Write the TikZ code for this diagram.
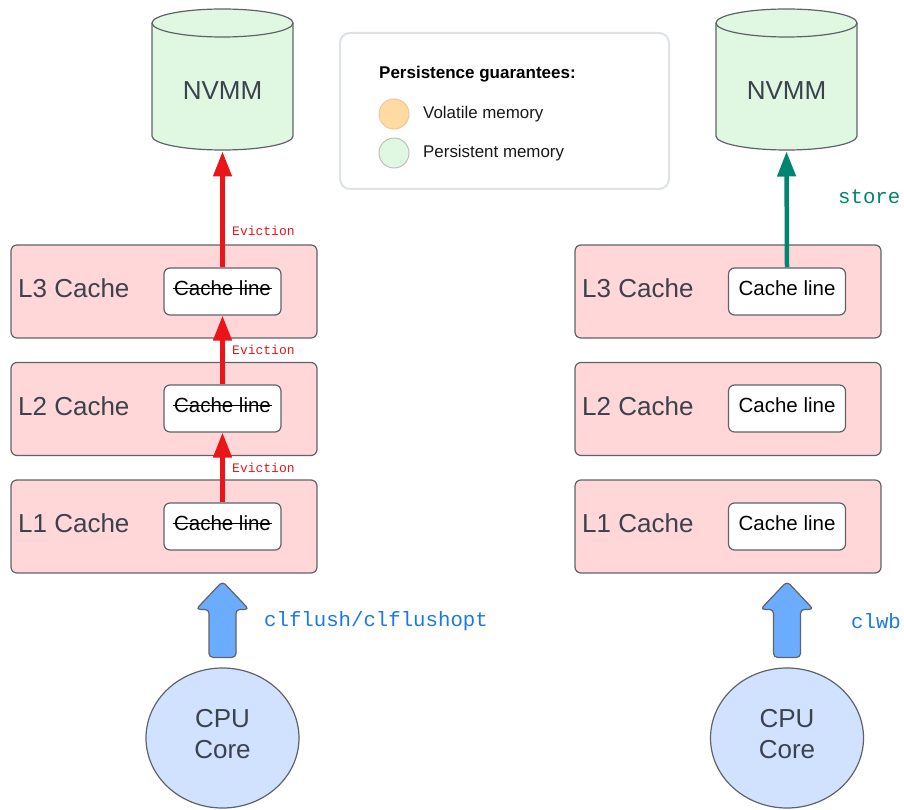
\documentclass[tikz,border=0pt]{standalone}
\usepackage{fontspec}
\setmainfont{Liberation Sans}
\setmonofont{Liberation Mono}
\usetikzlibrary{shapes.geometric,arrows.meta}

\definecolor{cachepink}{RGB}{255,215,217}
\definecolor{nvmmgreen}{RGB}{224,248,226}
\definecolor{cpublue}{RGB}{208,226,255}
\definecolor{flushblue}{RGB}{108,172,255}
\definecolor{cmdblue}{RGB}{25,120,235}
\definecolor{evictred}{RGB}{235,20,25}
\definecolor{storeteal}{RGB}{0,133,112}
\definecolor{edgegray}{RGB}{95,99,104}
\definecolor{labelgray}{RGB}{60,66,76}
\definecolor{voltorange}{RGB}{255,218,163}
\definecolor{legendgray}{RGB}{222,226,231}

\newcommand{\crossout}[1]{\setbox0\hbox{#1}\rlap{\kern-1.5pt\rule[0.3em]{\dimexpr\wd0+3pt\relax}{1.6pt}}\box0}

\begin{document}
\begin{tikzpicture}[x=1pt, y=-1pt,
    cachebox/.style={draw=edgegray, fill=cachepink, rounded corners=6pt, line width=1.2pt, minimum width=306pt, minimum height=93pt},
    lineslot/.style={draw=edgegray, fill=white, rounded corners=6pt, line width=1.2pt, minimum width=117pt, minimum height=47pt, inner sep=0pt, text depth=7pt, font=\fontsize{20.5}{24}\selectfont},
    levellabel/.style={anchor=west, inner sep=0pt, text=labelgray, font=\fontsize{26}{31}\selectfont},
    drum/.style={draw=edgegray, fill=nvmmgreen, line width=1.2pt},
    bigtext/.style={inner sep=0pt, text=labelgray, font=\fontsize{26}{31}\selectfont},
    core/.style={ellipse, draw=edgegray, fill=cpublue, line width=1.2pt, minimum width=153pt, minimum height=140pt},
    evict/.style={-{Triangle[length=25pt,width=18pt]}, evictred, line width=4.5pt},
    evictlabel/.style={anchor=west, inner sep=0pt, text=evictred, font=\ttfamily\fontsize{13}{15}\selectfont},
    cmd/.style={anchor=west, inner sep=0pt, font=\ttfamily\fontsize{20.7}{24}\selectfont},
    pushup/.style={draw=edgegray, fill=flushblue, line width=1.2pt, rounded corners=4pt, line join=round},
    legenddot/.style={circle, minimum size=30pt, inner sep=0pt, line width=1pt},
    legendtext/.style={anchor=west, inner sep=0pt, text=black!90, font=\fontsize{16.9}{20}\selectfont}
  ]
    \useasboundingbox (0,0) rectangle (904,810);

    % 图例
    \node[draw=legendgray, fill=white, rounded corners=10pt, line width=2pt, minimum width=329pt, minimum height=156pt] (legend) at (504.5,111) {};
    \node[anchor=west, inner sep=0pt, font=\bfseries\fontsize{17}{20}\selectfont] (legendtitle) at (379,74) {Persistence guarantees:};
    \node[legenddot, draw=orange!45!brown!45, fill=voltorange] (dotvol) at (394,114) {};
    \node[legenddot, draw=black!25, fill=nvmmgreen] (dotper) at (394,153) {};
    \node[legendtext] (textvol) at (423,114) {Volatile memory};
    \node[legendtext] (textper) at (423,153) {Persistent memory};

    % 左侧: clflush
    \draw[drum] (152,23) -- (152,136) arc[start angle=180, end angle=360, x radius=70.5pt, y radius=14pt] -- (293,23) arc[start angle=0, end angle=180, x radius=70.5pt, y radius=14pt] -- cycle;
    \draw[drum, fill=none] (152,23) arc[start angle=180, end angle=360, x radius=70.5pt, y radius=14pt];
    \node[bigtext] (nvmmL) at (222.5,91) {NVMM};
    \coordinate (nvmmbotL) at (222.5,151.5);

    \node[cachebox] (l3L) at (164,291.5) {};
    \node[cachebox] (l2L) at (164,409) {};
    \node[cachebox] (l1L) at (164,526.5) {};

    \node[levellabel] (l3labL) at (18,288.5) {L3 Cache};
    \node[levellabel] (l2labL) at (18,406) {L2 Cache};
    \node[levellabel] (l1labL) at (18,523.5) {L1 Cache};

    \node[lineslot] (cl3L) at (222.5,291.5) {\crossout{Cache line}};
    \node[lineslot] (cl2L) at (222.5,408.5) {\crossout{Cache line}};
    \node[lineslot] (cl1L) at (222.5,526.5) {\crossout{Cache line}};

    \draw[evict] (cl1L.north) -- (cl2L.south);
    \draw[evict] (cl2L.north) -- (cl3L.south);
    \draw[evict] (cl3L.north) -- (nvmmbotL);

    \node[evictlabel] (ev1) at (232,468) {Eviction};
    \node[evictlabel] (ev2) at (232,350) {Eviction};
    \node[evictlabel] (ev3) at (232,231) {Eviction};

    \node[core] (cpuL) at (222.5,738) {};
    \node[bigtext, align=center] (cpulabL) at (222.5,734) {CPU\\Core};
    \draw[pushup, shift={(cpuL.north)}] (-13.5,-10) -- (-13.5,-58) -- (-26.5,-58) -- (0,-86) -- (26.5,-58) -- (13.5,-58) -- (13.5,-10) -- cycle;
    \node[cmd, text=cmdblue] (cmdL) at (264,621) {clflush/clflushopt};

    % 右侧: clwb
    \draw[drum] (716,23) -- (716,136) arc[start angle=180, end angle=360, x radius=70.5pt, y radius=14pt] -- (857,23) arc[start angle=0, end angle=180, x radius=70.5pt, y radius=14pt] -- cycle;
    \draw[drum, fill=none] (716,23) arc[start angle=180, end angle=360, x radius=70.5pt, y radius=14pt];
    \node[bigtext] (nvmmR) at (786.5,91) {NVMM};
    \coordinate (nvmmbotR) at (786.5,151.5);

    \node[cachebox] (l3R) at (728,291.5) {};
    \node[cachebox] (l2R) at (728,409) {};
    \node[cachebox] (l1R) at (728,526.5) {};

    \node[levellabel] (l3labR) at (582,288.5) {L3 Cache};
    \node[levellabel] (l2labR) at (582,406) {L2 Cache};
    \node[levellabel] (l1labR) at (582,523.5) {L1 Cache};

    \node[lineslot] (cl3R) at (787,291.5) {Cache line};
    \node[lineslot] (cl2R) at (787,408.5) {Cache line};
    \node[lineslot] (cl1R) at (787,526.5) {Cache line};

    \draw[-{Triangle[length=25pt,width=18pt]}, storeteal, line width=4.5pt] (cl3R.north) -- (nvmmbotR);
    \node[cmd, text=storeteal] (storelab) at (838,197) {store};

    \node[core] (cpuR) at (787,738) {};
    \node[bigtext, align=center] (cpulabR) at (787,734) {CPU\\Core};
    \draw[pushup, shift={(cpuR.north)}] (-13.5,-10) -- (-13.5,-58) -- (-26.5,-58) -- (0,-86) -- (26.5,-58) -- (13.5,-58) -- (13.5,-10) -- cycle;
    \node[cmd, text=cmdblue] (cmdR) at (851,621) {clwb};
  \end{tikzpicture}
\end{document}
